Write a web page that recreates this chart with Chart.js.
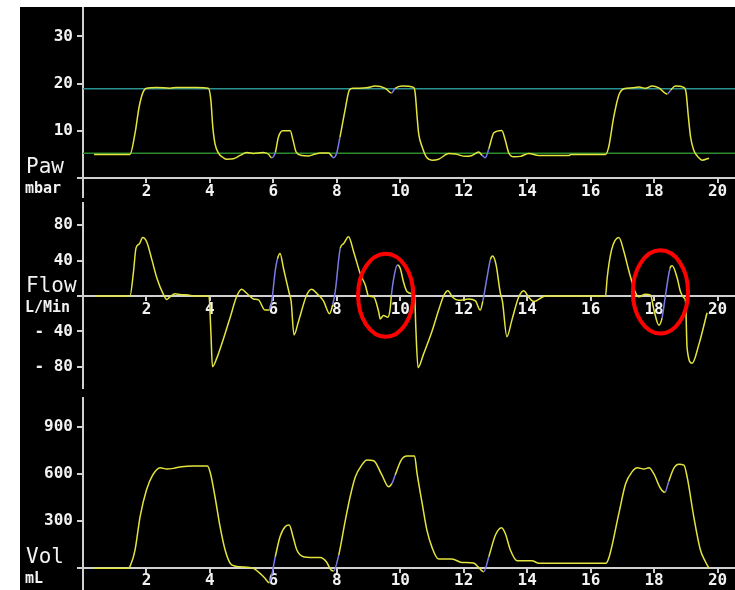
<!DOCTYPE html>
<html>
<head>
<meta charset="utf-8">
<script src="https://cdn.jsdelivr.net/npm/chart.js@4.4.1/dist/chart.umd.min.js"></script>
<style>
  html, body { margin: 0; padding: 0; background: #fff; }
  #scope { position: absolute; left: 20px; top: 7px; width: 715px; height: 583px; background: #000; overflow: hidden; }
  #scope canvas { position: absolute; left: 0; }
</style>
</head>
<body>
<div id="scope">
  <canvas id="paw" width="715" height="193" style="top:0px"></canvas>
  <canvas id="flow" width="715" height="193" style="top:193px"></canvas>
  <canvas id="vol" width="715" height="197" style="top:386px"></canvas>
</div>
<script>
// time axis (seconds)
const xTicks = [2, 4, 6, 8, 10, 12, 14, 16, 18, 20];
const xMax = 20.55;

// airway pressure, mbar
const pawT = [0.35,1.48,1.64,1.77,1.9,2.0,2.32,2.74,2.95,3.58,3.95,4.03,4.09,4.16,4.27,4.43,4.53,4.74,4.95,5.16,5.37,5.68,5.84,5.95,6.06,6.16,6.3,6.53,6.62,6.72,6.9,7.11,7.32,7.48,7.74,7.85,7.9,8.0,8.1,8.26,8.4,8.52,8.93,9.21,9.53,9.72,9.84,10.05,10.42,10.47,10.53,10.58,10.69,10.84,11.0,11.21,11.53,11.74,12.05,12.26,12.47,12.58,12.68,12.79,12.95,13.2,13.31,13.42,13.58,13.79,14.05,14.37,15.32,15.38,16.47,16.57,16.73,16.89,17.05,17.31,17.52,17.73,17.94,18.15,18.41,18.52,18.67,18.94,19.01,19.08,19.15,19.25,19.41,19.51,19.73];
const pawV = [5.0,5.0,9.5,15.1,18.3,19.0,19.2,19.0,19.2,19.2,19.0,16.5,10.9,7.3,5.3,4.3,4.0,4.1,4.8,5.4,5.2,5.4,5.1,4.3,5.4,8.7,10.0,10.0,8.0,5.5,4.8,4.7,5.1,5.3,5.3,4.6,4.3,5.4,8.7,14.4,18.7,19.0,19.1,19.5,19.0,18.0,19.0,19.5,19.2,18.0,13.0,9.4,6.6,4.3,3.8,4.0,5.2,5.1,4.6,4.8,5.5,4.8,4.3,6.2,9.6,10.1,8.0,5.3,4.5,4.6,5.2,4.8,4.8,5.0,5.0,6.6,13.0,17.6,18.9,19.1,19.3,19.0,19.5,19.1,17.8,18.6,19.5,19.2,18.0,13.0,8.7,5.9,4.3,3.8,4.2];
const pawTicks = [0, 10, 20, 30];
const pawHighLine = 18.9;
const pawPeepLine = 5.25;

// flow, L/min
const flowT = [0.38,1.48,1.59,1.67,1.78,1.88,2.01,2.17,2.33,2.53,2.64,2.74,2.9,3.06,3.32,3.48,3.97,4.03,4.08,4.22,4.43,4.64,4.84,5.0,5.16,5.37,5.53,5.74,5.87,5.95,6.06,6.13,6.21,6.32,6.5,6.56,6.65,6.79,7.05,7.21,7.37,7.58,7.77,7.87,7.95,8.11,8.21,8.37,8.53,8.74,8.9,9.0,9.16,9.32,9.37,9.47,9.61,9.68,9.72,9.82,9.91,10.0,10.1,10.21,10.37,10.45,10.49,10.56,10.73,11.0,11.21,11.37,11.5,11.65,11.84,12.16,12.37,12.52,12.6,12.73,12.84,12.91,13.02,13.15,13.22,13.36,13.52,13.73,13.89,14.05,14.21,14.47,14.57,16.47,16.52,16.66,16.89,17.05,17.2,17.41,17.52,17.73,17.89,17.99,18.15,18.25,18.36,18.5,18.57,18.73,18.83,18.94,18.99,19.04,19.2,19.41,19.67];
const flowV = [0,0,27,54,59,66,61,41,20,2,-4,-1,2.6,1.5,1,0,0,-40,-80,-70,-48,-24,-1,7.5,3,-3.4,-4.5,-16,-16,-6,29,42,48,31,3,-6,-44,-29,1,7.5,2.7,-5.6,-20,-10,5,54,59,67,50,25,12,0,-1,-18,-26,-22,-24,-15,1,25,35,31,16,5,2.6,2,-36,-81,-66,-40,-16,0.4,6,-1.5,-5,-3.4,-5.6,-16,-6,20,41,45,35,4,-6,-46,-27,-1.5,6,-1.5,-6.4,-1.5,0,0,20,52,66,50,29,4,-1,2,1,-15,-33,-25,1,31,34,20,5,-2,-6,-59,-76,-55,-19];
const flowTicks = [-80, -40, 0, 40, 80];

// volume, mL
const volT = [0.35,1.43,1.5,1.64,1.8,2.0,2.2,2.43,2.64,2.85,3.11,3.48,3.92,4.02,4.16,4.32,4.48,4.64,4.79,4.95,5.37,5.58,5.74,5.87,6.06,6.21,6.37,6.5,6.62,6.74,6.95,7.16,7.48,7.67,7.82,7.9,8.06,8.26,8.42,8.58,8.79,8.95,9.16,9.42,9.63,9.74,9.84,10.03,10.21,10.45,10.53,10.69,10.84,11.0,11.21,11.63,11.94,12.31,12.47,12.63,12.79,13.0,13.19,13.31,13.47,13.68,14.15,14.37,16.47,16.57,16.89,17.1,17.31,17.47,17.68,17.84,17.99,18.2,18.34,18.46,18.62,18.78,18.94,19.04,19.25,19.46,19.62,19.73];
const volV = [-4,-4,17,113,326,496,592,638,630,634,645,649,649,600,453,262,113,28,11,6,-4,-36,-68,-96,70,198,262,272,198,113,70,66,66,38,-15,-21,81,294,453,577,656,687,683,592,517,538,592,687,713,713,600,411,240,130,55,55,34,30,2,-26,70,209,255,219,113,45,45,28,28,60,347,534,613,638,630,638,600,507,481,550,634,660,655,581,326,113,38,-4];
const volTicks = [0, 300, 600, 900];

// spontaneous-breath segments drawn in blue (time ranges)
const blueRanges = [[5.9, 6.1], [7.87, 8.1], [9.71, 9.92], [12.6, 12.86], [18.3, 18.52]];

// red rings on the flow curve (time, flow) and their radii in axis units
const ringT = [9.54, 18.2];
const ringFlow = [0.8, 4.5];
const ringRadiusT = 0.87;
const ringRadiusFlow = 47;

const yellow = '#e4e43e';
const blue = '#7a7ae6';
const axisColor = '#d0d0d0';
const textColor = '#f2f2f2';
const monoFont = '"DejaVu Sans Mono", "Liberation Mono", monospace';

function toPoints(t, v) {
  return t.map((x, i) => ({ x: x, y: v[i] }));
}

function inBlue(x) {
  return blueRanges.some(r => x >= r[0] && x <= r[1]);
}

// panel name and unit written at the left of each strip
const panelLabels = {
  id: 'panelLabels',
  afterDraw(chart, args, o) {
    const ctx = chart.ctx;
    ctx.save();
    ctx.fillStyle = textColor;
    ctx.textBaseline = 'alphabetic';
    ctx.textAlign = 'left';
    ctx.font = '21px ' + monoFont;
    ctx.fillText(o.name, 6, o.nameY);
    ctx.font = 'bold 15px ' + monoFont;
    ctx.fillText(o.unit, 5, o.unitY);
    ctx.restore();
  }
};

// red ellipses marking the flow events
const redRings = {
  id: 'redRings',
  afterDatasetsDraw(chart) {
    const ctx = chart.ctx;
    const xs = chart.scales.x, ys = chart.scales.y;
    ctx.save();
    ctx.strokeStyle = '#ff0000';
    ctx.lineWidth = 4;
    ringT.forEach((t, i) => {
      const cx = xs.getPixelForValue(t);
      const cy = ys.getPixelForValue(ringFlow[i]);
      const rx = xs.getPixelForValue(t + ringRadiusT) - cx;
      const ry = cy - ys.getPixelForValue(ringFlow[i] + ringRadiusFlow);
      ctx.beginPath();
      ctx.ellipse(cx, cy, rx, ry, 0, 0, Math.PI * 2);
      ctx.stroke();
    });
    ctx.restore();
  }
};

function makePanel(id, t, v, yMin, yMax, yTicks, extra, padding, labels, plugins) {
  const datasets = [{
    data: toPoints(t, v),
    borderColor: yellow,
    borderWidth: 1.5,
    pointRadius: 0,
    cubicInterpolationMode: 'monotone',
    segment: {
      borderColor: c => inBlue((c.p0.parsed.x + c.p1.parsed.x) / 2) ? blue : yellow
    }
  }].concat(extra);

  return new Chart(document.getElementById(id), {
    type: 'line',
    data: { datasets: datasets },
    options: {
      responsive: false,
      animation: false,
      layout: { padding: padding },
      plugins: {
        legend: { display: false },
        tooltip: { enabled: false },
        panelLabels: labels
      },
      scales: {
        x: {
          type: 'linear',
          min: 0,
          max: xMax,
          position: { y: 0 },
          afterBuildTicks: s => { s.ticks = xTicks.map(x => ({ value: x })); },
          afterFit: s => { s.paddingLeft = 0; s.paddingRight = 0; },
          grid: { drawOnChartArea: false, tickLength: 4, color: axisColor, lineWidth: 2 },
          border: { display: true, color: axisColor, width: 2 },
          ticks: {
            color: textColor,
            padding: 0,
            autoSkip: false,
            maxRotation: 0,
            font: { family: monoFont, size: 16, weight: 'bold' }
          }
        },
        y: {
          type: 'linear',
          min: yMin,
          max: yMax,
          position: 'left',
          afterBuildTicks: s => { s.ticks = yTicks.map(y => ({ value: y })); },
          // fixed axis width, no extra room for half labels
          afterFit: s => { s.width = 63; s.paddingTop = 0; s.paddingBottom = 0; },
          grid: { drawOnChartArea: false, tickLength: 6, color: axisColor, lineWidth: 2 },
          border: { display: true, color: axisColor, width: 2 },
          ticks: {
            color: textColor,
            padding: 4,
            font: { family: monoFont, size: 16, weight: 'bold' },
            callback: val => val === 0 ? '' : (val < 0 ? '- ' + (-val) : String(val))
          }
        }
      }
    },
    plugins: [panelLabels].concat(plugins || [])
  });
}

const pawLines = [
  { data: [{ x: 0, y: pawHighLine }, { x: xMax, y: pawHighLine }], borderColor: '#2a9090', borderWidth: 1.5, pointRadius: 0 },
  { data: [{ x: 0, y: pawPeepLine }, { x: xMax, y: pawPeepLine }], borderColor: '#2c8a2c', borderWidth: 1.5, pointRadius: 0 }
];

makePanel('paw', pawT, pawV, -4, 36, pawTicks, pawLines,
  { top: 1, bottom: 3, left: 0, right: 0 },
  { name: 'Paw', unit: 'mbar', nameY: 165.5, unitY: 186.3 });

makePanel('flow', flowT, flowV, -104, 105, flowTicks, [],
  { top: 3, bottom: 5, left: 0, right: 0 },
  { name: 'Flow', unit: 'L/Min', nameY: 91.7, unitY: 112.3 },
  [redRings]);

makePanel('vol', volT, volV, -142, 1083, volTicks, [],
  { top: 5, bottom: 0, left: 0, right: 0 },
  { name: 'Vol', unit: 'mL', nameY: 170.3, unitY: 190.3 });
</script>
</body>
</html>
